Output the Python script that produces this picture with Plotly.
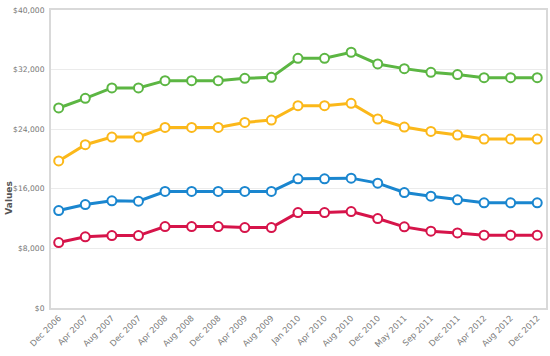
import plotly.graph_objects as go

categories = ["Dec 2006", "Apr 2007", "Aug 2007", "Dec 2007", "Apr 2008", "Aug 2008",
              "Dec 2008", "Apr 2009", "Aug 2009", "Jan 2010", "Apr 2010", "Aug 2010",
              "Dec 2010", "May 2011", "Sep 2011", "Dec 2011", "Apr 2012", "Aug 2012",
              "Dec 2012"]

green = [26850, 28140, 29540, 29540, 30520, 30520, 30520, 30830, 30960, 33520, 33520,
         34330, 32760, 32130, 31640, 31330, 30920, 30920, 30920]
yellow = [19740, 21920, 22950, 22950, 24240, 24240, 24240, 24910, 25230, 27160, 27160,
          27470, 25370, 24290, 23700, 23220, 22680, 22680, 22680]
blue = [13080, 13890, 14390, 14340, 15640, 15640, 15640, 15640, 15640, 17340, 17340,
        17430, 16760, 15500, 15010, 14520, 14120, 14120, 14120]
red = [8780, 9550, 9720, 9720, 10930, 10930, 10930, 10800, 10800, 12810, 12810,
       12950, 12010, 10890, 10310, 10080, 9770, 9770, 9770]

series = [
    ("Series 1", green, "#5cb643"),
    ("Series 2", yellow, "#fbb81a"),
    ("Series 3", blue, "#1a86cf"),
    ("Series 4", red, "#d6144a"),
]

y_ticks = [0, 8000, 16000, 24000, 32000, 40000]
y_tick_labels = ["$0", "$8,000", "$16,000", "$24,000", "$32,000", "$40,000"]

fig = go.Figure()
for name, vals, col in series:
    fig.add_trace(go.Scatter(
        x=categories, y=vals, name=name, mode="lines+markers",
        line=dict(color=col, width=3),
        marker=dict(symbol="circle", size=9, color="white",
                    line=dict(color=col, width=2)),
    ))

font_family = "Verdana, DejaVu Sans, sans-serif"
fig.update_layout(
    width=550, height=356,
    margin=dict(l=51, r=4, t=10, b=48),
    paper_bgcolor="white", plot_bgcolor="white",
    showlegend=False,
    font=dict(family=font_family, size=8, color="#777777"),
    xaxis=dict(
        type="category", range=[-0.29, 18.33], automargin=False,
        tickangle=-45, tickfont=dict(size=8.3, color="#7a7a7a"),
        showgrid=False, showline=True, mirror=True,
        linecolor="#d9d9d9", linewidth=2, ticks="", zeroline=False,
    ),
    yaxis=dict(
        range=[0, 40000], tickvals=y_ticks, ticktext=y_tick_labels, automargin=False,
        tickfont=dict(size=7.6, color="#777777"),
        showgrid=True, gridcolor="#ebebeb", gridwidth=1,
        showline=True, mirror=True, linecolor="#d9d9d9", linewidth=2,
        ticks="", zeroline=False, ticklabelstandoff=3,
    ),
    annotations=[dict(
        text="<b>Values</b>", textangle=-90, xref="paper", yref="paper",
        x=-0.085, y=0.37, xanchor="center", yanchor="middle", showarrow=False,
        font=dict(family=font_family, size=9, color="#555555"),
    )],
)

fig.write_html("out.html", config={"displayModeBar": False},
               post_script="document.body.style.margin='0';document.body.style.padding='0';")
